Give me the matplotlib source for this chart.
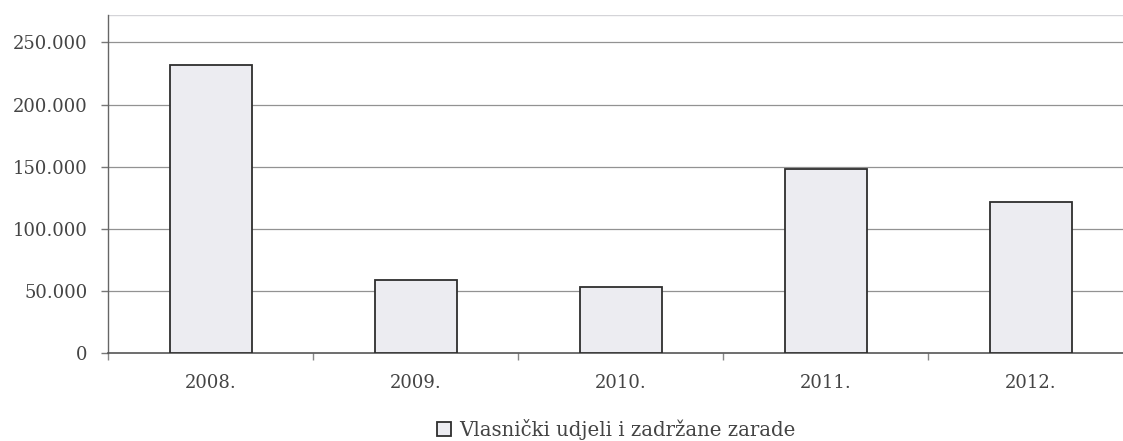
import matplotlib
matplotlib.use("Agg")
import matplotlib.pyplot as plt
from matplotlib.patches import Rectangle
from matplotlib.ticker import FixedLocator, FuncFormatter

# Data
years = ["2008.", "2009.", "2010.", "2011.", "2012."]
equity = [232000, 59000, 53100, 148400, 122000]
series_label = "Vlasnički udjeli i zadržane zarade"
y_ticks = [0, 50000, 100000, 150000, 200000, 250000]

plt.rcParams["font.family"] = ["DejaVu Serif"]
text_color = "#444444"
bar_face = "#ececf1"
bar_edge = "#2e2e2e"
grid_color = "#929292"

W, H = 1123, 441
fig = plt.figure(figsize=(W / 100, H / 100), dpi=100)
fig.patch.set_facecolor("white")

# plot area runs past the right edge of the figure
left_px, right_px, zero_px, top_px = 108, 1133, 353.3, 15
ax = fig.add_axes([left_px / W, (H - zero_px) / H,
                   (right_px - left_px) / W, (zero_px - top_px) / H])

x = list(range(len(years)))
ax.bar(x, equity, width=0.4, color=bar_face, edgecolor=bar_edge,
       linewidth=1.3, zorder=3)

ax.set_xlim(-0.5, len(years) - 0.5)
ax.set_ylim(0, 272000)

ax.set_yticks(y_ticks)
ax.yaxis.set_major_formatter(FuncFormatter(lambda v, p: f"{int(v):,}".replace(",", ".")))
for v in y_ticks[1:]:
    ax.axhline(v, color=grid_color, linewidth=0.9, zorder=1)
ax.axhline(272000, color="#d4d4d8", linewidth=1.0, zorder=1)

ax.set_xticks(x)
ax.set_xticklabels(years)
ax.xaxis.set_minor_locator(FixedLocator([i + 0.5 for i in range(-1, len(years))]))

ax.tick_params(axis="y", which="major", length=5, width=1, color="#777777",
               direction="out", pad=9.5, labelsize=13, labelcolor=text_color)
ax.tick_params(axis="x", which="major", length=0, pad=15,
               labelsize=13, labelcolor=text_color)
ax.tick_params(axis="x", which="minor", length=5, width=1, color="#888888",
               direction="out")

for side in ("top", "right"):
    ax.spines[side].set_visible(False)
ax.spines["left"].set_color("#666666")
ax.spines["left"].set_linewidth(1.0)
ax.spines["bottom"].set_color("#555555")
ax.spines["bottom"].set_linewidth(1.2)

handle = Rectangle((0, 0), 1, 1, facecolor=bar_face, edgecolor=bar_edge, linewidth=1.3)
leg = fig.legend([handle], [series_label], loc="center",
                 bbox_to_anchor=(616 / W, 11.5 / H), frameon=False,
                 fontsize=14.2, handlelength=0.7, handleheight=0.7,
                 handletextpad=0.4, borderpad=0)
for t in leg.get_texts():
    t.set_color(text_color)

fig.savefig("out.png", dpi=100, facecolor="white")
